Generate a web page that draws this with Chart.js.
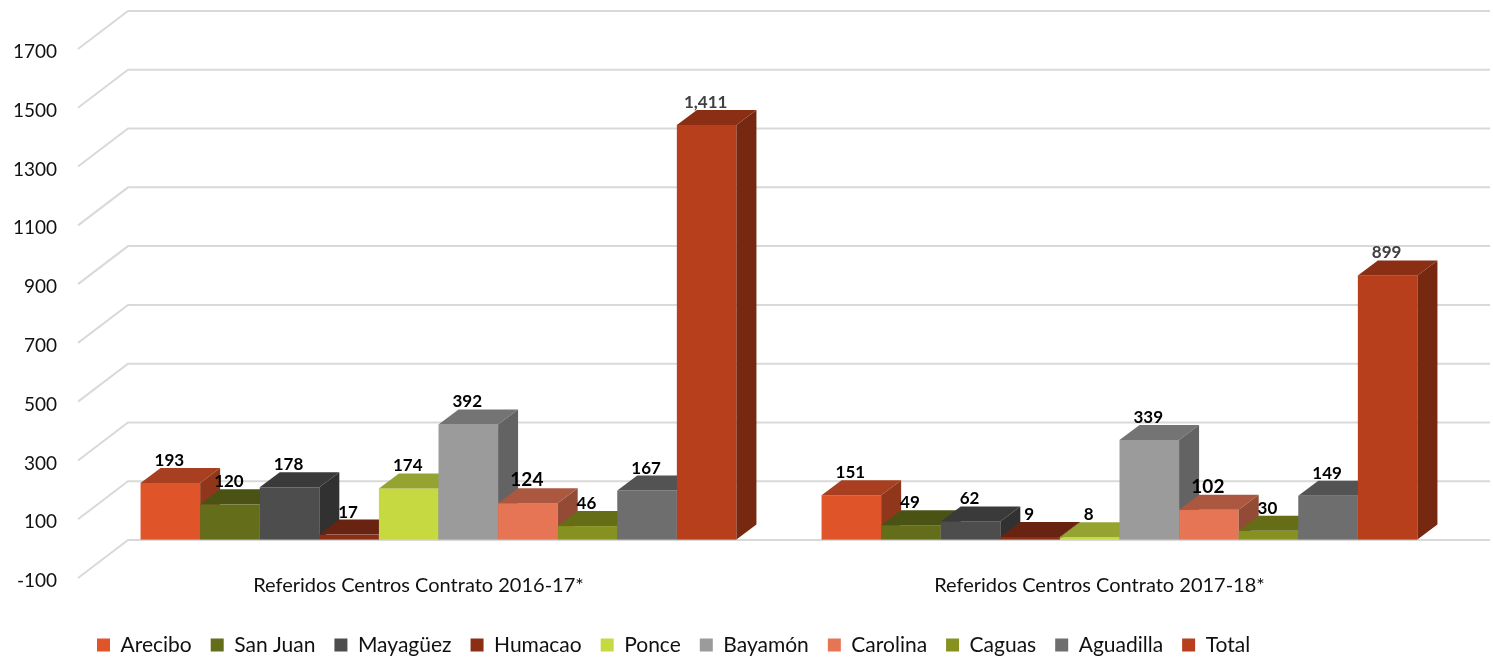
<!DOCTYPE html>
<html>
<head>
<meta charset="utf-8">
<script src="https://cdn.jsdelivr.net/npm/chart.js@4.4.0/dist/chart.umd.min.js"></script>
<style>
    body { margin: 0; background: #fff; }
</style>
</head>
<body>
<canvas id="grafico" width="1493" height="659"></canvas>
<script>
// categorias del eje x
const categorias = ['Referidos Centros Contrato 2016-17*', 'Referidos Centros Contrato 2017-18*'];

// valores por centro (2016-17, 2017-18)
const arecibo = [193, 151];
const sanJuan = [120, 49];
const mayaguez = [178, 62];
const humacao = [17, 9];
const ponce = [174, 8];
const bayamon = [392, 339];
const carolina = [124, 102];
const caguas = [46, 30];
const aguadilla = [167, 149];
const total = [1411, 899];

const centros = ['Arecibo', 'San Juan', 'Mayagüez', 'Humacao', 'Ponce', 'Bayamón', 'Carolina', 'Caguas', 'Aguadilla', 'Total'];
const series = [arecibo, sanJuan, mayaguez, humacao, ponce, bayamon, carolina, caguas, aguadilla, total];
const colores = ['#E0542A', '#646E1A', '#4D4D4D', '#8B2E16', '#C6D940', '#9B9B9B', '#E57555', '#86911F', '#6E6E6E', '#B83F1B'];

// eje y
const yMin = -100;
const yMax = 1700;
const yPaso = 200;

// perspectiva (pixeles)
const FONDO_X = 50, FONDO_Y = -38;   // pared del fondo
const PLANO_X = 20, PLANO_Y = -9;    // plano donde estan las barras
const PROF_X = 20, PROF_Y = -15;     // grosor de cada barra

function oscurecer(hex, f) {
    var r = parseInt(hex.slice(1, 3), 16), g = parseInt(hex.slice(3, 5), 16), b = parseInt(hex.slice(5, 7), 16);
    return 'rgb(' + Math.round(r * f) + ',' + Math.round(g * f) + ',' + Math.round(b * f) + ')';
}

const barras3d = {
    id: 'barras3d',
    beforeDatasetsDraw(chart) {
        const { ctx, chartArea, scales } = chart;

        // lineas de la cuadricula: diagonal a la izquierda + pared del fondo
        ctx.save();
        ctx.strokeStyle = '#d9d9d9';
        ctx.lineWidth = 2;
        scales.y.ticks.forEach(function (t) {
            var py = scales.y.getPixelForValue(t.value);
            ctx.beginPath();
            ctx.moveTo(chartArea.left, py);
            ctx.lineTo(chartArea.left + FONDO_X, py + FONDO_Y);
            ctx.lineTo(chartArea.right + FONDO_X, py + FONDO_Y);
            ctx.stroke();
        });
        ctx.restore();

        // barras de izquierda a derecha
        ctx.save();
        ctx.translate(PLANO_X, PLANO_Y);
        categorias.forEach(function (_, j) {
            chart.data.datasets.forEach(function (ds, i) {
                var bar = chart.getDatasetMeta(i).data[j];
                var l = bar.x - bar.width / 2, r = bar.x + bar.width / 2;
                var t = Math.min(bar.y, bar.base), b = Math.max(bar.y, bar.base);
                var c = ds.backgroundColor;

                ctx.fillStyle = c;
                ctx.fillRect(l, t, r - l, b - t);

                ctx.fillStyle = oscurecer(c, 0.75);
                ctx.beginPath();
                ctx.moveTo(l, t);
                ctx.lineTo(l + PROF_X, t + PROF_Y);
                ctx.lineTo(r + PROF_X, t + PROF_Y);
                ctx.lineTo(r, t);
                ctx.closePath();
                ctx.fill();

                ctx.fillStyle = oscurecer(c, 0.64);
                ctx.beginPath();
                ctx.moveTo(r, t);
                ctx.lineTo(r + PROF_X, t + PROF_Y);
                ctx.lineTo(r + PROF_X, b + PROF_Y);
                ctx.lineTo(r, b);
                ctx.closePath();
                ctx.fill();
            });
        });

        // etiquetas de valor
        ctx.textAlign = 'center';
        ctx.textBaseline = 'alphabetic';
        chart.data.datasets.forEach(function (ds, i) {
            ds.data.forEach(function (v, j) {
                var bar = chart.getDatasetMeta(i).data[j];
                var t = Math.min(bar.y, bar.base);
                ctx.font = (ds.label === 'Carolina' ? 'bold 19px' : 'bold 17px') + ' Lato';
                ctx.fillStyle = ds.label === 'Total' ? '#404040' : '#000';
                ctx.fillText(v.toLocaleString('en-US'), bar.x - 1, t + PROF_Y - 2);
            });
        });
        ctx.restore();
        return false;
    }
};

const ctx = document.getElementById('grafico').getContext('2d');
const grafico = new Chart(ctx, {
    type: 'bar',
    data: {
        labels: categorias,
        datasets: centros.map(function (nombre, i) {
            return {
                label: nombre,
                data: series[i],
                backgroundColor: colores[i],
                borderWidth: 0,
                categoryPercentage: 0.875,
                barPercentage: 1.0,
            };
        }),
    },
    options: {
        responsive: false,
        devicePixelRatio: 1,
        animation: false,
        layout: {
            padding: { top: 49, right: 53, left: 0, bottom: -6.5 },
        },
        scales: {
            x: {
                grid: { display: false },
                border: { display: false },
                ticks: {
                    padding: -12,
                    color: '#111',
                    font: { family: 'Lato', size: 20 },
                },
                afterFit: function (scale) { scale.height = 37.5; },
            },
            y: {
                min: yMin,
                max: yMax,
                grid: { display: false, drawTicks: false },
                border: { display: false },
                ticks: {
                    stepSize: yPaso,
                    padding: 21,
                    labelOffset: 3,
                    color: '#111',
                    font: { family: 'Lato', size: 19 },
                    callback: function (v) { return String(v); },
                },
                afterFit: function (scale) { scale.width = 78; },
            },
        },
        plugins: {
            legend: {
                position: 'bottom',
                align: 'start',
                fullSize: false,
                labels: {
                    boxWidth: 13,
                    boxHeight: 13,
                    padding: 19,
                    color: '#111',
                    font: { family: 'Lato', size: 21 },
                },
            },
            tooltip: { enabled: false },
        },
    },
    plugins: [barras3d],
});
</script>
</body>
</html>
